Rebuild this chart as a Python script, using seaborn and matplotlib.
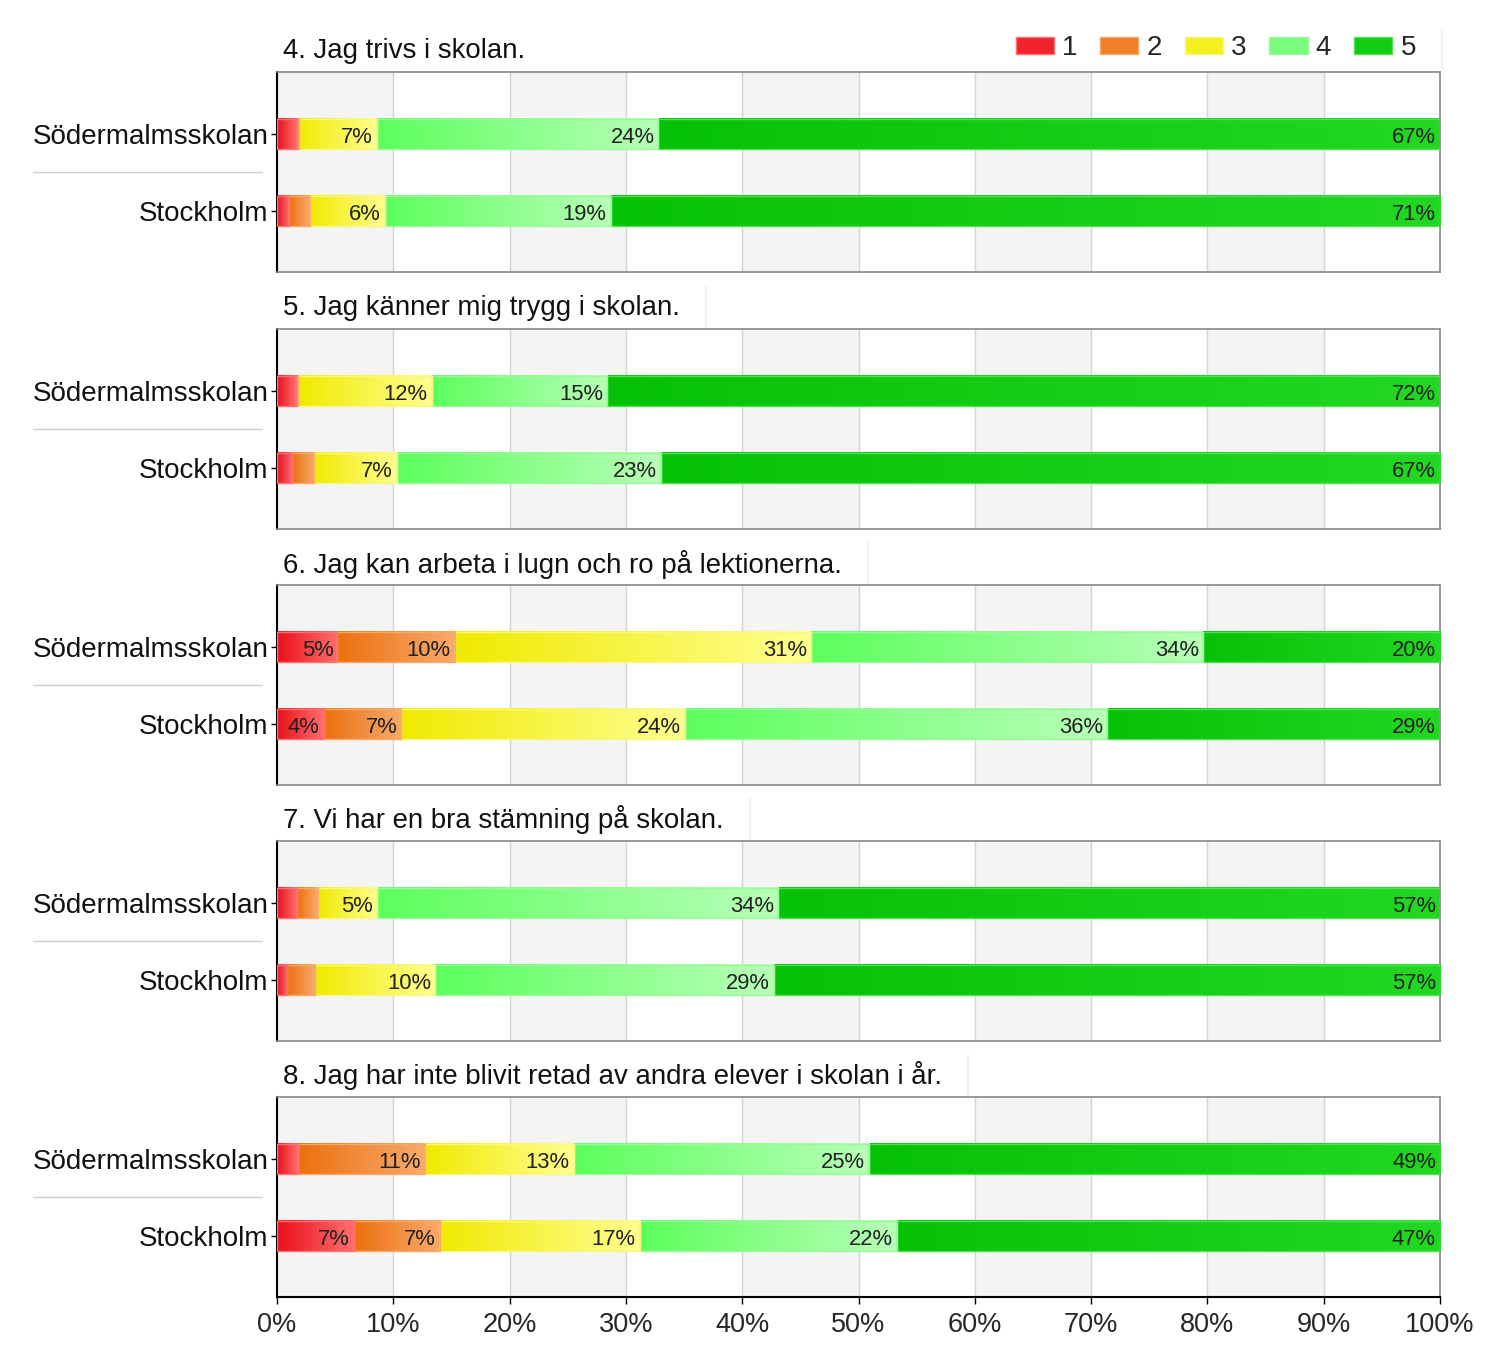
import numpy as np
import pandas as pd
import matplotlib
matplotlib.use("Agg")
import matplotlib.pyplot as plt
from matplotlib.colors import LinearSegmentedColormap
from matplotlib.patches import Patch, Rectangle
import seaborn as sns

sns.set_theme(style="white")
plt.rcParams['font.family'] = ['Liberation Sans', 'DejaVu Sans']

questions = [
    "4. Jag trivs i skolan.",
    "5. Jag känner mig trygg i skolan.",
    "6. Jag kan arbeta i lugn och ro på lektionerna.",
    "7. Vi har en bra stämning på skolan.",
    "8. Jag har inte blivit retad av andra elever i skolan i år.",
]
groups = ["Södermalmsskolan", "Stockholm"]
levels = ["1", "2", "3", "4", "5"]

# shares (%) per question: [Södermalmsskolan, Stockholm], each level 1..5
q4 = [[1.7, 0.2, 6.7, 24.2, 67.2], [1.0, 1.8, 6.5, 19.4, 71.3]]
q5 = [[1.6, 0.2, 11.5, 15.1, 71.6], [1.3, 1.9, 7.1, 22.7, 67.0]]
q6 = [[5.2, 10.1, 30.6, 33.7, 20.4], [4.0, 6.7, 24.4, 36.3, 28.6]]
q7 = [[1.7, 1.8, 5.1, 34.5, 56.9], [0.9, 2.4, 10.3, 29.1, 57.3]]
q8 = [[1.8, 10.9, 12.8, 25.4, 49.1], [6.6, 7.4, 17.2, 22.1, 46.7]]
data = [q4, q5, q6, q7, q8]

colors = ["#f0222c", "#f08028", "#f4f020", "#7cfc7c", "#12cc12"]
grad_left = ["#e8101a", "#ec700e", "#f0ea00", "#5cff5c", "#06c206"]
grad_right = ["#ff6e6e", "#f8aa6c", "#ffff90", "#b8ffb8", "#22d822"]
edges = ["#ff7070", "#f8a868", "#f8f880", "#9cf89c", "#50e050"]

W, H = 1500, 1354
fig = plt.figure(figsize=(W / 100, H / 100), dpi=100)

left = 277 / W
width = (1440 - 277) / W
tops = [72, 329, 585, 841, 1097]
ph = 200
grad = np.linspace(0, 1, 256).reshape(1, -1)
title_texts = []

for qi, (title, vals) in enumerate(zip(questions, data)):
    top = tops[qi]
    ax = fig.add_axes([left, 1 - (top + ph) / H, width, ph / H])
    for b in range(0, 100, 20):
        ax.axvspan(b, b + 10, color="#f4f4f4", zorder=0, lw=0)
    for g in range(10, 100, 10):
        ax.axvline(g, color="#d4d4d4", lw=1, zorder=0.5)

    arr = np.array(vals)
    cum = np.cumsum(arr, axis=1)
    df = pd.DataFrame(cum, columns=levels)
    df["group"] = groups
    order = list(range(4, -1, -1))
    for li in order:
        sns.barplot(data=df, x=levels[li], y="group", orient="h", ax=ax,
                    color=colors[li], width=0.39, saturation=1,
                    linewidth=0, zorder=2 + (4 - li))
    # gradient overlay per segment, positioned from the bars seaborn drew
    for ci, li in enumerate(order):
        cont = ax.containers[ci]
        cmap = LinearSegmentedColormap.from_list(f"g{li}", [grad_left[li], grad_right[li]])
        for gi, p in enumerate(cont.patches):
            x1 = p.get_x() + p.get_width()
            x0 = cum[gi, li - 1] if li > 0 else 0.0
            if x1 - x0 <= 0:
                continue
            y0, hh = p.get_y(), p.get_height()
            ax.imshow(grad, extent=[x0, x1, y0 + hh, y0], cmap=cmap,
                      aspect="auto", zorder=10, interpolation="bilinear")
            ax.add_patch(Rectangle((x0, y0), x1 - x0, hh, fill=False,
                                   edgecolor=edges[li], lw=1, zorder=11))
    for gi in range(2):
        for li in range(5):
            v = arr[gi, li]
            if v >= 3.5:
                ax.text(cum[gi, li] - 0.35, gi + 0.045, f"{round(v):.0f}%",
                        ha="right", va="center", fontsize=15.8,
                        color="#202020", zorder=20)

    ax.set_xlim(0, 100)
    ax.set_ylim(1.79, -0.805)
    ax.set_xlabel("")
    ax.set_ylabel("")
    ax.set_yticks([0, 1])
    ax.set_yticklabels(groups, fontsize=20, color="#111111")
    ax.tick_params(axis="y", length=4, width=1, color="black", pad=2, left=True)
    for s in ["top", "right", "bottom"]:
        ax.spines[s].set_color("#888888")
        ax.spines[s].set_linewidth(1.2)
    ax.spines["left"].set_color("black")
    ax.spines["left"].set_linewidth(1.5)
    if qi == 4:
        ax.spines["bottom"].set_color("black")
        ax.spines["bottom"].set_linewidth(1.5)
        ax.set_xticks(range(0, 101, 10))
        ax.set_xticklabels([f"{t}%" for t in range(0, 101, 10)], fontsize=19.5)
        ax.tick_params(axis="x", length=5, width=1, color="black", pad=6, bottom=True)
    else:
        ax.set_xticks([])
    t = fig.text(283 / W, 1 - (top - 21) / H, title, fontsize=19.9, ha="left",
                 va="center", color="#111111")
    title_texts.append(t)
    sep_y = 1 - (top + 100) / H
    fig.add_artist(plt.Line2D([33 / W, 262 / W], [sep_y, sep_y],
                              color="#cccccc", lw=1))

handles = [Patch(facecolor=c, edgecolor=e) for c, e in zip(colors, edges)]
fig.legend(handles, levels, loc="center right", bbox_to_anchor=(1416 / W, 1 - 48 / H),
           ncol=5, frameon=False, fontsize=20, handlelength=1.37, handleheight=0.58,
           handletextpad=0.3, columnspacing=0.82, borderpad=0, borderaxespad=0)

# faint separator after each title
fig.canvas.draw()
renderer = fig.canvas.get_renderer()
for qi, t in enumerate(title_texts):
    top = tops[qi]
    if qi == 0:
        xs = 1442 / W
    else:
        bb = t.get_window_extent(renderer)
        xs = (bb.x1 + 26) / W
    fig.add_artist(plt.Line2D([xs, xs], [1 - (top - 42) / H, 1 - (top - 2) / H],
                              color="#ececec", lw=1.2))

fig.savefig("out.png", dpi=100)
